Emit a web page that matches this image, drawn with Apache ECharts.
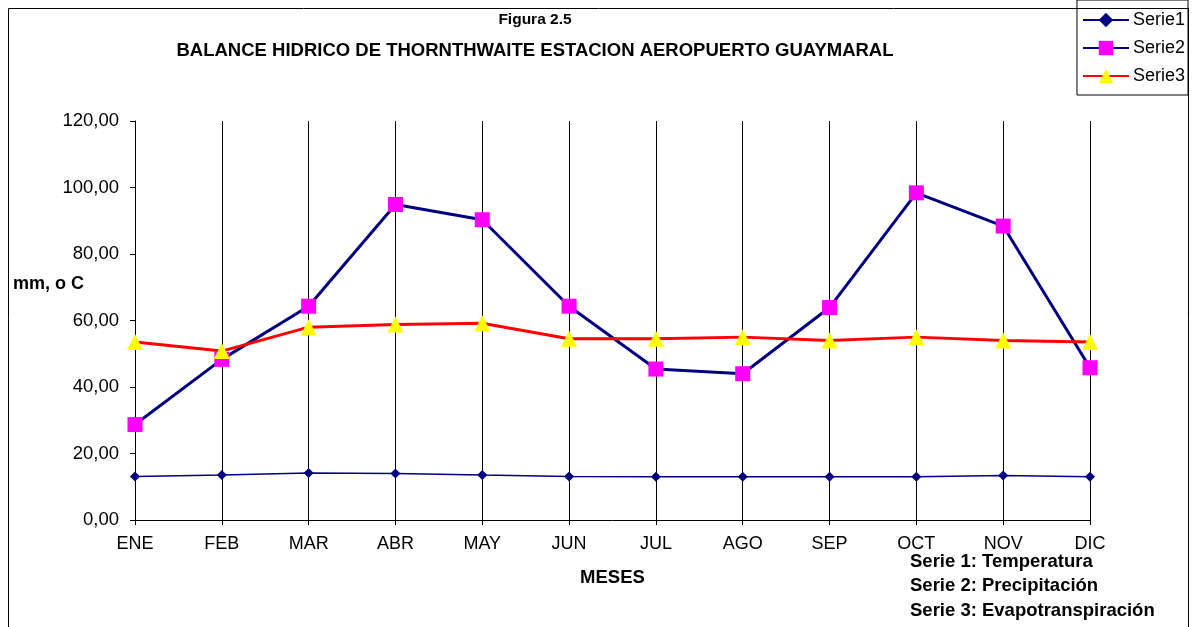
<!DOCTYPE html>
<html>
<head>
<meta charset="utf-8">
<title>Balance hidrico Guaymaral</title>
<script src="https://cdn.jsdelivr.net/npm/echarts@6/dist/echarts.min.js"></script>
<style>
  html, body { margin: 0; padding: 0; background: #fff; }
  #chart { width: 1193px; height: 627px; }
</style>
</head>
<body>
<div id="chart"></div>
<script>
const meses = ['ENE', 'FEB', 'MAR', 'ABR', 'MAY', 'JUN', 'JUL', 'AGO', 'SEP', 'OCT', 'NOV', 'DIC']

// Serie 1: Temperatura
const serie1 = [13.1, 13.5, 14.1, 14.0, 13.5, 13.1, 13.0, 13.0, 13.0, 13.0, 13.4, 13.0]
// Serie 2: Precipitacion
const serie2 = [28.7, 48.3, 64.3, 94.9, 90.3, 64.3, 45.4, 44.0, 63.9, 98.4, 88.4, 45.8]
// Serie 3: Evapotranspiracion
const serie3 = [53.5, 50.8, 58.0, 58.8, 59.2, 54.5, 54.5, 55.0, 54.0, 55.0, 54.0, 53.5]

const notas = ['Serie 1: Temperatura', 'Serie 2: Precipitación', 'Serie 3: Evapotranspiración']

const FONT = "'Liberation Sans', Arial, sans-serif"

const chart = echarts.init(document.getElementById('chart'))

chart.setOption({
  animation: false,
  textStyle: { fontFamily: FONT, color: '#000' },
  title: {
    text: 'Figura 2.5',
    subtext: 'BALANCE HIDRICO DE THORNTHWAITE ESTACION AEROPUERTO GUAYMARAL',
    left: 530,
    top: 7,
    textAlign: 'center',
    itemGap: 13,
    textStyle: { fontFamily: FONT, fontWeight: 'bold', fontSize: 15.5, color: '#000' },
    subtextStyle: { fontFamily: FONT, fontWeight: 'bold', fontSize: 18.5, color: '#000' }
  },
  legend: {
    orient: 'vertical',
    right: 5,
    top: 0,
    padding: [11, 3, 10, 5],
    itemGap: 10,
    itemWidth: 46,
    itemHeight: 18,
    borderColor: '#000',
    borderWidth: 1,
    textStyle: { fontFamily: FONT, fontSize: 18, color: '#000', padding: [0, 0, 0, -1] },
    data: ['Serie1', 'Serie2', 'Serie3']
  },
  grid: {
    left: 135,
    right: 103,
    top: 121,
    bottom: 107
  },
  xAxis: {
    type: 'category',
    data: meses,
    boundaryGap: false,
    name: 'MESES',
    nameLocation: 'middle',
    nameGap: 48,
    nameTextStyle: { fontFamily: FONT, fontWeight: 'bold', fontSize: 18.5, color: '#000' },
    axisLine: { lineStyle: { color: '#000', width: 1 } },
    axisTick: { length: 5, lineStyle: { color: '#000' } },
    axisLabel: { fontFamily: FONT, fontSize: 18, color: '#000', margin: 15 },
    splitLine: { show: true, lineStyle: { color: '#000', width: 1 } }
  },
  yAxis: {
    type: 'value',
    min: 0,
    max: 120,
    interval: 20,
    axisLine: { show: true, lineStyle: { color: '#000', width: 1 } },
    axisTick: { show: true, length: 5, lineStyle: { color: '#000' } },
    axisLabel: {
      fontFamily: FONT,
      fontSize: 18.5,
      color: '#000',
      margin: 16,
      formatter: v => v.toFixed(2).replace('.', ',')
    },
    splitLine: { show: false }
  },
  series: [
    {
      name: 'Serie1',
      type: 'line',
      data: serie1,
      symbol: 'diamond',
      symbolSize: 10,
      itemStyle: { color: '#000080' },
      lineStyle: { color: '#000080', width: 1.5 },
      z: 3
    },
    {
      name: 'Serie2',
      type: 'line',
      data: serie2,
      symbol: 'rect',
      symbolSize: 15,
      itemStyle: { color: '#ff00ff' },
      lineStyle: { color: '#000080', width: 3 },
      z: 4
    },
    {
      name: 'Serie3',
      type: 'line',
      data: serie3,
      symbol: 'triangle',
      symbolSize: 16,
      itemStyle: { color: '#ffff00' },
      lineStyle: { color: '#ff0000', width: 3 },
      z: 5
    }
  ],
  graphic: [
    {
      type: 'rect',
      shape: { x: 8.5, y: 8.5, width: 1180, height: 640 },
      style: { fill: 'none', stroke: '#000', lineWidth: 1 },
      silent: true,
      z: -1
    },
    {
      type: 'text',
      left: 13,
      top: 275,
      style: { text: 'mm, o C', font: 'bold 18px ' + FONT, fill: '#000' }
    },
    {
      type: 'text',
      left: 910,
      top: 552,
      style: { text: notas[0], font: 'bold 18.5px ' + FONT, fill: '#000' }
    },
    {
      type: 'text',
      left: 910,
      top: 576,
      style: { text: notas[1], font: 'bold 18.5px ' + FONT, fill: '#000' }
    },
    {
      type: 'text',
      left: 910,
      top: 601,
      style: { text: notas[2], font: 'bold 18.5px ' + FONT, fill: '#000' }
    }
  ]
})
</script>
</body>
</html>
